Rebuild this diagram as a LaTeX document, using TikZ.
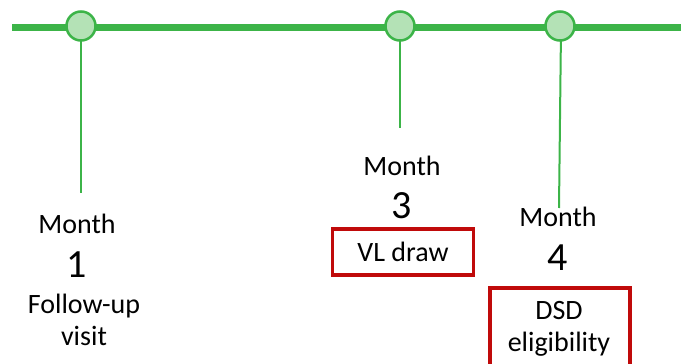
\documentclass[tikz,border=0pt]{standalone}
\usepackage{fontspec}
\setmainfont{Carlito}
\definecolor{tlgreen}{RGB}{60,180,72}
\definecolor{tlfill}{RGB}{180,226,182}
\definecolor{boxred}{RGB}{192,10,10}
\begin{document}
\begin{tikzpicture}[x=1pt,y=-1pt,
  milestone/.style={circle,draw=tlgreen,fill=tlfill,line width=2.5pt,minimum size=29pt,inner sep=0pt},
  stem/.style={draw=tlgreen,line width=2pt},
  lbl/.style={font=\fontsize{28}{32}\selectfont,inner sep=0pt,align=center},
  num/.style={font=\fontsize{40}{44}\selectfont,inner sep=0pt},
  redbox/.style={draw=boxred,line width=3.5pt}]
\useasboundingbox (0,0) rectangle (681,364);
\clip (0,0) rectangle (681,364);
\coordinate (ls) at (12,27);
\coordinate (le) at (681,27);
\draw[tlgreen,line width=7pt] (ls) -- (le);
\coordinate (s1) at (81,193);
\coordinate (s2) at (400,128);
\coordinate (s3) at (559,208);
\draw[stem] (81,30) -- (s1);
\draw[stem] (400,30) -- (s2);
\draw[stem] (561,30) -- (s3);
\node[milestone] (c1) at (81,26) {};
\node[milestone] (c2) at (400,26) {};
\node[milestone] (c3) at (560,26) {};
% month 1
\node[lbl] (m1) at (77,224) {Month};
\node[num] (n1) at (77,265) {1};
\node[lbl] (f1) at (84,320) {Follow-up\\visit};
% month 3
\node[lbl] (m3) at (402,166) {Month};
\node[num] (n3) at (402,206) {3};
\node[redbox,minimum width=141pt,minimum height=46pt,lbl] (b3) at (403,252) {VL draw};
% month 4
\node[lbl] (m4) at (558,217) {Month};
\node[num] (n4) at (558,258) {4};
\draw[redbox] (490,288) rectangle (630,380);
\node[lbl] (d4) at (559,329) {DSD\\eligibility};
\end{tikzpicture}
\end{document}
